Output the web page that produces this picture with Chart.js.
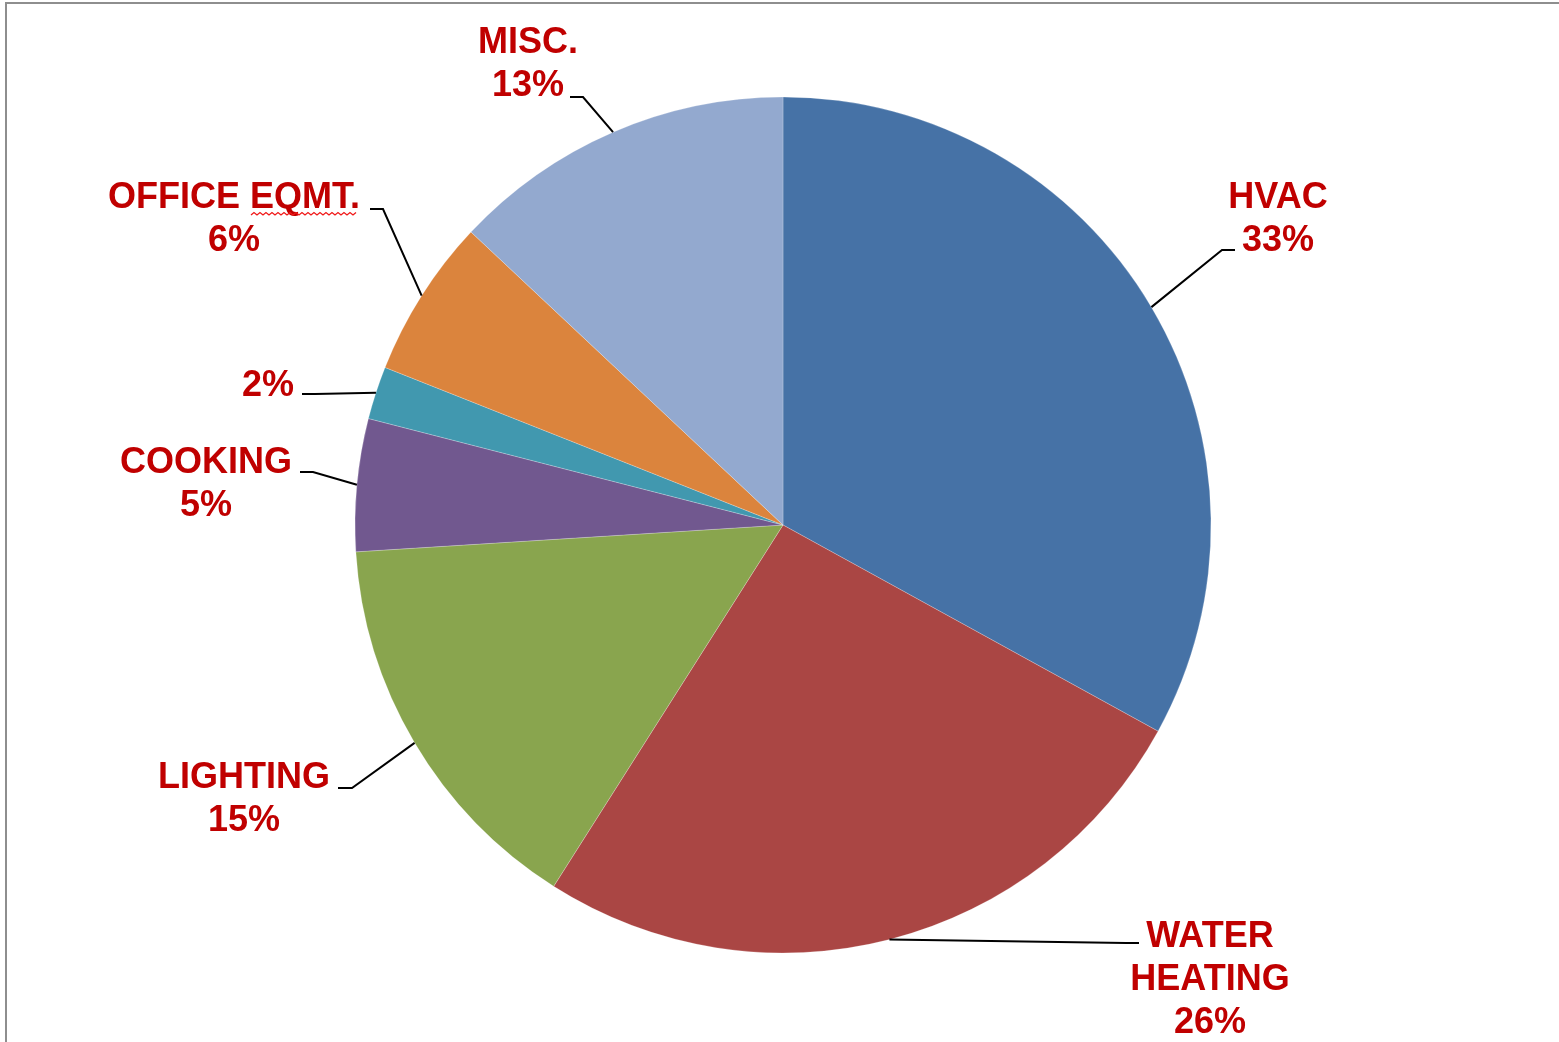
<!DOCTYPE html>
<html>
<head>
<meta charset="utf-8">
<script src="https://cdn.jsdelivr.net/npm/chart.js@4.4.1/dist/chart.umd.min.js"></script>
<style>
  html, body { margin: 0; padding: 0; background: #fff; overflow: hidden; }
  #wrap { position: relative; width: 1559px; height: 1042px; }
  #frame { position: absolute; left: 5px; top: 2px; right: 0; bottom: 0;
           border-top: 2px solid #8e8e8e; border-left: 2px solid #8e8e8e; }
  #mycanvas { position: absolute; left: 0; top: 0; display: block; }
</style>
</head>
<body>
<div id="wrap">
  <div id="frame"></div>
  <canvas id="mycanvas" width="1559" height="1042"></canvas>
</div>
<script>
// energy use shares, clockwise from 12 o'clock
var categories = ['HVAC', 'WATER HEATING', 'LIGHTING', 'COOKING', '', 'OFFICE EQMT.', 'MISC.'];
var shares = [33, 26, 15, 5, 2, 6, 13];
// how each category name is broken into lines on the label
var labelLines = [['HVAC'], ['WATER', 'HEATING'], ['LIGHTING'], ['COOKING'], [], ['OFFICE EQMT.'], ['MISC.']];

var sliceColors = ['#4672A6', '#AA4644', '#89A54E', '#71588F', '#4198AF', '#DB843D', '#93A9CF'];

// label placement relative to pie centre: text centre x, first baseline y,
// elbow of the leader line and where it stops next to the text
var labelLayout = [
  { tx: 495,  ty: -317, ex: 439,  ey: -275, lx: 452,  ly: -275 },
  { tx: 427,  ty: 422,  ex: 343,  ey: 418,  lx: 356,  ly: 418 },
  { tx: -539, ty: 263,  ex: -431, ey: 263,  lx: -445, ly: 263 },
  { tx: -577, ty: -52,  ex: -470, ey: -53,  lx: -483, ly: -53 },
  { tx: -515, ty: -129, ex: -468, ey: -131, lx: -481, ly: -131 },
  { tx: -549, ty: -317, ex: -400, ey: -316, lx: -413, ly: -316 },
  { tx: -255, ty: -472, ex: -200, ey: -428, lx: -213, ly: -428 }
];

var LINE_H = 43;
var LABEL_FONT = "bold 36px 'Liberation Sans', Arial, sans-serif";
var LABEL_COLOR = '#C00000';

var outsideLabels = {
  id: 'outsideLabels',
  afterDatasetsDraw: function(chart) {
    var ctx = chart.ctx;
    var arcs = chart.getDatasetMeta(0).data;
    ctx.save();
    ctx.font = LABEL_FONT;
    ctx.textAlign = 'center';
    ctx.textBaseline = 'alphabetic';

    for (var i = 0; i < arcs.length; i++) {
      var p = arcs[i].getProps(['x', 'y', 'startAngle', 'endAngle', 'outerRadius'], true);
      var mid = (p.startAngle + p.endAngle) / 2;
      var sx = p.x + Math.cos(mid) * p.outerRadius;
      var sy = p.y + Math.sin(mid) * p.outerRadius;
      var L = labelLayout[i];

      // leader line
      ctx.strokeStyle = '#000';
      ctx.lineWidth = 2;
      ctx.beginPath();
      ctx.moveTo(sx, sy);
      ctx.lineTo(p.x + L.ex, p.y + L.ey);
      ctx.lineTo(p.x + L.lx, p.y + L.ly);
      ctx.stroke();

      // text
      var lines = labelLines[i].concat([shares[i] + '%']);
      ctx.fillStyle = LABEL_COLOR;
      for (var j = 0; j < lines.length; j++) {
        ctx.fillText(lines[j], p.x + L.tx, p.y + L.ty + j * LINE_H);
      }

      // red spell-check squiggle under "EQMT."
      if (categories[i] === 'OFFICE EQMT.') {
        var full = ctx.measureText(lines[0]).width;
        var head = ctx.measureText('OFFICE ').width;
        var x0 = p.x + L.tx - full / 2 + head + 1;
        var x1 = p.x + L.tx + full / 2 - 2;
        var y0 = p.y + L.ty + 7;
        ctx.strokeStyle = '#f01818';
        ctx.lineWidth = 1.3;
        ctx.beginPath();
        var up = true;
        ctx.moveTo(x0, y0);
        for (var x = x0 + 3; x <= x1; x += 3) {
          ctx.lineTo(x, up ? y0 - 2.5 : y0);
          up = !up;
        }
        ctx.stroke();
      }
    }
    ctx.restore();
  }
};

var ctx = document.getElementById('mycanvas');

var pieChart = new Chart(ctx, {
  type: 'pie',
  data: {
    labels: categories,
    datasets: [{
      data: shares,
      backgroundColor: sliceColors,
      borderWidth: 0.5,
      borderColor: 'rgba(255,255,255,0.45)'
    }]
  },
  options: {
    responsive: false,
    animation: false,
    radius: 428,
    layout: { padding: { left: 7, right: 0, top: 8, bottom: 0 } },
    plugins: {
      legend: { display: false },
      tooltip: { enabled: false }
    }
  },
  plugins: [outsideLabels]
});
</script>
</body>
</html>
